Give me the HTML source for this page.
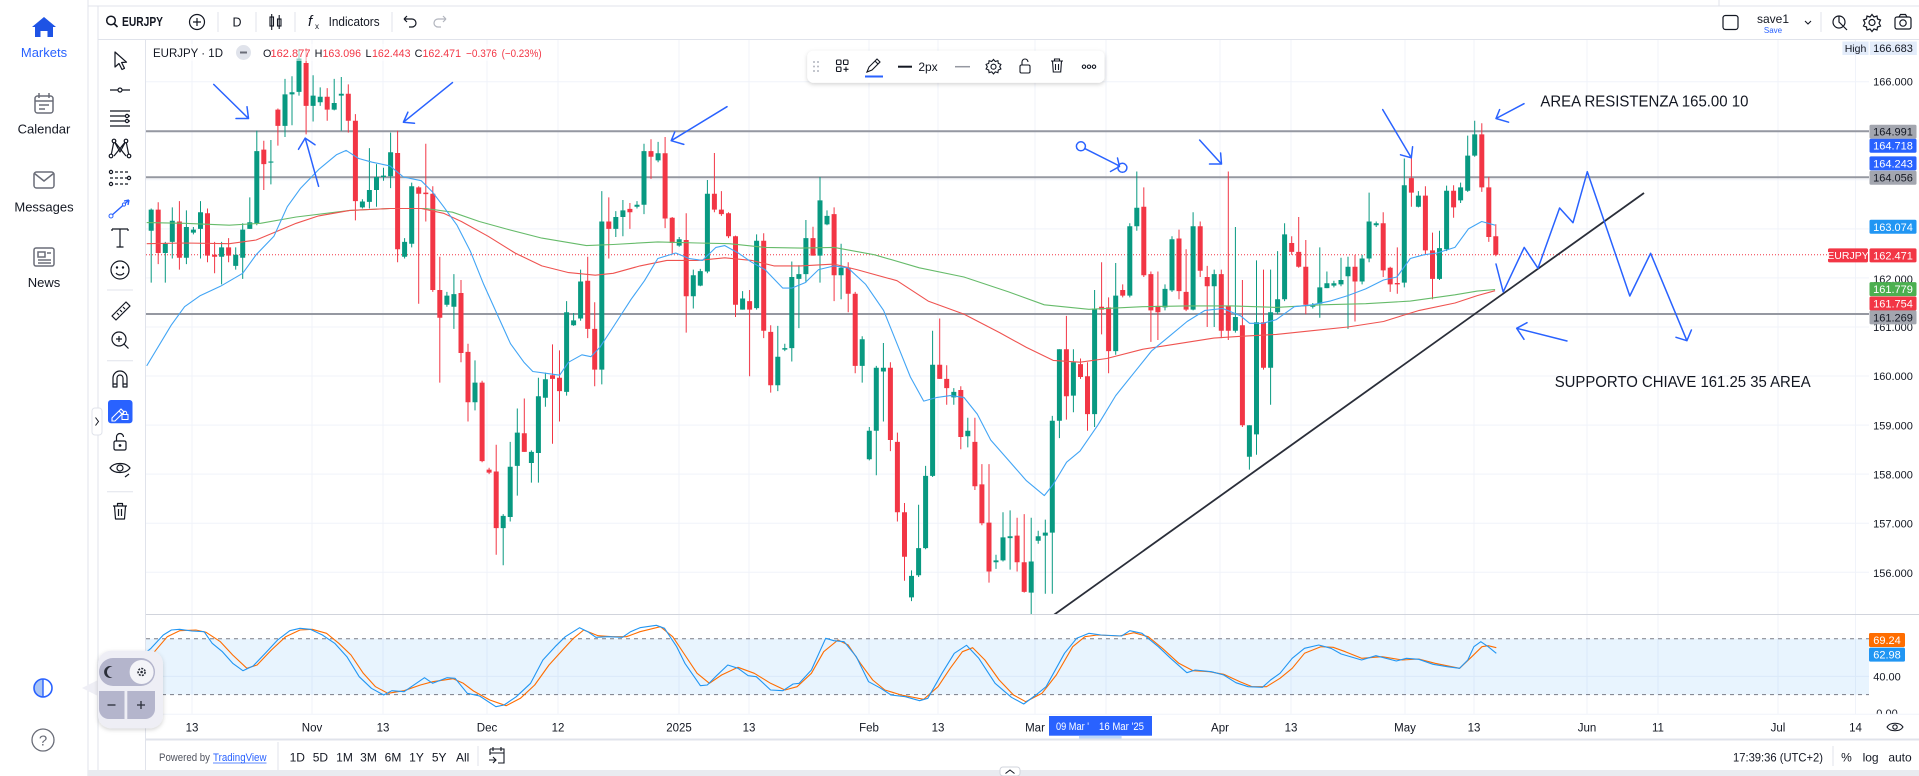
<!DOCTYPE html>
<html><head><meta charset="utf-8"><style>
html,body{margin:0;padding:0;background:#fff;}
svg{display:block}
text{font-family:"Liberation Sans",Arial,sans-serif;}
</style></head><body>
<svg width="1919" height="776" viewBox="0 0 1919 776" xmlns="http://www.w3.org/2000/svg">
<defs>
<clipPath id="pp"><rect x="146" y="40" width="1723" height="574"/></clipPath>
<clipPath id="ip"><rect x="146" y="615" width="1723" height="99"/></clipPath>
<filter id="sh" x="-10%" y="-30%" width="120%" height="170%"><feDropShadow dx="0" dy="1.5" stdDeviation="2" flood-color="#000" flood-opacity="0.18"/></filter>
</defs>
<rect width="1919" height="776" fill="#fff"/>
<!-- frame lines -->
<line x1="88" y1="0" x2="88" y2="776" stroke="#e0e3eb"/>
<line x1="98" y1="6" x2="98" y2="770" stroke="#e0e3eb"/>
<line x1="88" y1="6" x2="1919" y2="6" stroke="#e0e3eb"/>
<line x1="1719" y1="0" x2="1719" y2="6" stroke="#e0e3eb"/>
<line x1="98" y1="39.5" x2="1919" y2="39.5" stroke="#e0e3eb"/>
<line x1="145.5" y1="40" x2="145.5" y2="770" stroke="#e0e3eb"/>
<rect x="88" y="770" width="1831" height="6" fill="#e9ebf0"/>
<rect x="1000" y="767" width="20" height="9" rx="3" fill="#fff" stroke="#d1d4dc"/>
<path d="M1005.5 773.5l4.5-3.5 4.5 3.5" fill="none" stroke="#131722" stroke-width="1"/>

<!-- sidebar -->
<path d="M32 27L44 17L56 27H53V37H47.5V31H40.5V37H35V27Z" fill="#1e53e5"/>
<text x="44" y="57" font-size="13" fill="#2962ff" text-anchor="middle">Markets</text>
<g fill="none" stroke="#6a6d78" stroke-width="1.5">
<rect x="35" y="96" width="18" height="17" rx="2.5"/><line x1="35" y1="101" x2="53" y2="101"/><line x1="39" y1="93" x2="39" y2="98"/><line x1="49" y1="93" x2="49" y2="98"/><line x1="39" y1="105" x2="49" y2="105"/><line x1="39" y1="109" x2="45" y2="109"/>
<rect x="34" y="172" width="20" height="16" rx="2.5"/><path d="M34.5 173.5L44 181L53.5 173.5"/>
<rect x="34" y="248" width="20" height="18" rx="2"/><rect x="38" y="252" width="7" height="5"/><line x1="47" y1="253" x2="51" y2="253"/><line x1="38" y1="260" x2="51" y2="260"/><line x1="38" y1="263" x2="51" y2="263"/>
</g>
<text x="44" y="133.5" font-size="13" fill="#131722" text-anchor="middle">Calendar</text>
<text x="44" y="211.5" font-size="13" fill="#131722" text-anchor="middle">Messages</text>
<text x="44" y="287" font-size="13" fill="#131722" text-anchor="middle">News</text>
<path d="M43 679a9 9 0 0 0 0 18z" fill="#a9c4f5"/>
<circle cx="43" cy="688" r="9" fill="none" stroke="#2962ff" stroke-width="1.6"/>
<line x1="43" y1="679" x2="43" y2="697" stroke="#2962ff" stroke-width="1.4"/>
<circle cx="43" cy="740" r="11" fill="none" stroke="#6a6d78" stroke-width="1.3"/>
<text x="43" y="745.5" font-size="15" fill="#6a6d78" text-anchor="middle">?</text>

<!-- top toolbar -->
<circle cx="111" cy="20.5" r="4.3" fill="none" stroke="#131722" stroke-width="1.5"/><line x1="114" y1="23.5" x2="117.5" y2="27" stroke="#131722" stroke-width="1.6"/>
<text x="122" y="26" font-size="12.5" font-weight="bold" fill="#131722" textLength="41" lengthAdjust="spacingAndGlyphs">EURJPY</text>
<circle cx="197" cy="22" r="7.5" fill="none" stroke="#131722" stroke-width="1.2"/><path d="M193 22h8M197 18v8" stroke="#131722" stroke-width="1.2"/>
<g stroke="#e0e3eb"><line x1="218" y1="12" x2="218" y2="32"/><line x1="256" y1="12" x2="256" y2="32"/><line x1="295" y1="12" x2="295" y2="32"/><line x1="392" y1="12" x2="392" y2="32"/><line x1="1821" y1="12" x2="1821" y2="32"/></g>
<text x="237" y="26.5" font-size="12.5" fill="#131722" text-anchor="middle">D</text>
<g stroke="#131722" fill="none" stroke-width="1.1"><rect x="270" y="17" width="3.5" height="9"/><line x1="271.7" y1="14" x2="271.7" y2="30"/><rect x="277.5" y="19" width="3.5" height="7"/><line x1="279.2" y1="15" x2="279.2" y2="29"/></g>
<text x="308" y="26" font-size="15" font-style="italic" fill="#131722" font-family="Liberation Serif,serif">f</text><text x="315" y="29" font-size="8" fill="#131722">x</text>
<text x="328.6" y="26" font-size="12.5" fill="#131722" textLength="51" lengthAdjust="spacingAndGlyphs">Indicators</text>
<path d="M404 19h8a4 4 0 0 1 0 8h-3M404 19l3-3M404 19l3 3" fill="none" stroke="#131722" stroke-width="1.2"/>
<path d="M446 19h-8a4 4 0 0 0 0 8h3M446 19l-3-3M446 19l-3 3" fill="none" stroke="#b2b5be" stroke-width="1.2"/>
<rect x="1723" y="15.5" width="15" height="14" rx="2.5" fill="none" stroke="#131722" stroke-width="1.2"/>
<text x="1773" y="23" font-size="12" fill="#131722" text-anchor="middle">save1</text>
<text x="1773" y="33" font-size="8" fill="#2962ff" text-anchor="middle">Save</text>
<path d="M1805 21l3 3 3-3" fill="none" stroke="#131722" stroke-width="1.1"/>
<g fill="none" stroke="#131722" stroke-width="1.2">
<circle cx="1839" cy="22" r="6"/><path d="M1839 16v6l4 4M1843 26l4 4"/>
<circle cx="1872" cy="22.5" r="3"/><path d="M1872 14.5l2 2.5 3-1 .5 3 3 1-1.5 3 1.5 3-3 1-.5 3-3-1-2 2.5-2-2.5-3 1-.5-3-3-1 1.5-3-1.5-3 3-1 .5-3 3 1z"/>
<rect x="1895" y="17" width="16" height="12" rx="2"/><circle cx="1903" cy="23" r="3.2"/><path d="M1899 17l1.5-2.5h5l1.5 2.5"/>
</g>

<!-- left drawing toolbar -->
<g fill="none" stroke="#131722" stroke-width="1.2" stroke-linejoin="round">
<path d="M115 52V67l4-3.5 3 6 2.5-1.2-2.9-5.8 4.9-.3z"/>
<line x1="110" y1="90" x2="130" y2="90"/><circle cx="120" cy="90" r="2" fill="#fff"/>
<path d="M110 111h20M110 116h20M110 121h20M110 126h20"/><circle cx="127" cy="116" r="1.6" fill="#fff"/><circle cx="127" cy="121" r="1.6" fill="#fff"/>
<path d="M111 156L114 141L120 152L126 141L129 156M114 141L126 156M126 141L114 156"/><circle cx="114" cy="141" r="1.8" fill="#fff"/><circle cx="126" cy="141" r="1.8" fill="#fff"/><circle cx="111" cy="156" r="1.8" fill="#fff"/><circle cx="129" cy="156" r="1.8" fill="#fff"/>
<path d="M110 172h20M110 178h20M110 184h20" stroke-dasharray="3 2"/><circle cx="111" cy="172" r="1.6" fill="#fff"/><circle cx="129" cy="178" r="1.6" fill="#fff"/><circle cx="111" cy="184" r="1.6" fill="#fff"/>
<path d="M112 229h16M120 229v18M116.5 247h7M112 229v2M128 229v2"/>
<circle cx="120" cy="270" r="9"/><path d="M116 273a5 5 0 0 0 8 0"/><circle cx="117" cy="267.5" r=".6" fill="#131722"/><circle cx="123" cy="267.5" r=".6" fill="#131722"/>
<path d="M112 316l14-14 4 4-14 14z M117 313l2 2M120 310l2 2M123 307l2 2"/>
<circle cx="119" cy="339" r="7"/><path d="M124 344l4.5 4.5M116 339h6M119 336v6"/>
<path d="M113 387v-9a7 7 0 0 1 14 0v9h-4v-9a3 3 0 0 0-6 0v9z M113 384h4M123 384h4"/>
<rect x="114" y="441" width="12" height="9" rx="1.5"/><path d="M116.5 441v-4a3.5 3.5 0 0 1 7 0"/><circle cx="120" cy="445.5" r=".8" fill="#131722"/>
<path d="M110 468c4-6 16-6 20 0c-4 6-16 6-20 0z"/><circle cx="120" cy="468" r="3"/><path d="M125 477l4-3"/>
<path d="M113 506h14M117.5 506v-2.5h5v2.5M114.5 506l1 13h9l1-13M118.5 509v7M121.5 509v7"/>
</g>
<g stroke="#e0e3eb"><line x1="107" y1="290" x2="133" y2="290"/><line x1="107" y1="360.7" x2="133" y2="360.7"/><line x1="107" y1="491.7" x2="133" y2="491.7"/></g>
<path d="M111 216L129 200M129 200l-5 1M129 200l-1 5" fill="none" stroke="#2962ff" stroke-width="1.4"/><circle cx="111" cy="216" r="2" fill="#fff" stroke="#2962ff"/><circle cx="124" cy="204.5" r="1.6" fill="#fff" stroke="#2962ff"/>
<rect x="108" y="400" width="24.5" height="23.3" rx="3" fill="#2962ff"/>
<path d="M112 418l9-9 3 3-9 9h-3z M119 411l3 3" fill="none" stroke="#fff" stroke-width="1.1"/><rect x="122" y="414.5" width="6" height="5" fill="none" stroke="#fff"/><path d="M123.3 414.5v-1.5a1.7 1.7 0 0 1 3.4 0v1.5" fill="none" stroke="#fff"/>
<rect x="92" y="408" width="10" height="27" rx="3" fill="#fff" stroke="#e0e3eb"/><path d="M95.5 417.5l3 4-3 4" fill="none" stroke="#131722"/>

<!-- grid -->
<g stroke="#f0f3fa" stroke-width="1">
<path d="M146 81.7H1869M146 130.8H1869M146 179.8H1869M146 228.9H1869M146 277.9H1869M146 327H1869M146 376H1869M146 425.1H1869M146 474.1H1869M146 523.2H1869M146 572.2H1869M146 676.4H1869"/>
<path d="M192 40V714M312 40V714M383 40V714M487 40V714M558 40V714M679 40V714M749 40V714M869 40V714M938 40V714M1035 40V714M1106 40V714M1220 40V714M1291 40V714M1405 40V714M1474 40V714M1587 40V714M1658 40V714M1778 40V714M1855.5 40V714"/>
</g>

<!-- price pane -->
<g clip-path="url(#pp)">
<g stroke="#9598a1" stroke-width="2"><line x1="146" y1="131.2" x2="1869" y2="131.2"/><line x1="146" y1="177.3" x2="1869" y2="177.3"/><line x1="146" y1="314" x2="1869" y2="314"/></g>
<line x1="146" y1="254.8" x2="1828" y2="254.8" stroke="#f23645" stroke-width="1" stroke-dasharray="1 2"/>
<g fill="none" stroke-width="1">
<path stroke="#089981" d="M151.2 208.5V282.6M165.3 241.9V282.6M172.3 207.4V258.5M186.4 210.4V264.1M193.4 227V234.4M200.5 201.1V258.5M221.6 241.9V284.4M235.7 247.4V269.6M242.7 223.3V278.9M249.8 197.4V228.9M256.8 130.7V225.2M270.9 140V184.4M285 78.9V137M292 76.3V125.2M299 49V95.6M313.1 75.2V121.5M320.2 87.4V105.9M334.2 78.9V110.4M341.3 77V130.7M362.4 199.3V208.5M369.4 148.1V208.5M376.5 164.1V206.7M383.5 167.8V180.7M390.6 132.6V188.1M404.6 238.1V258.5M411.7 182.6V247.4M446.9 291.9V306.7M453.9 274.1V328.9M475 360.4V410.4M503.2 514.1V565.2M510.2 441.9V521.5M517.3 408.5V495.6M531.4 450.4V482.6M538.4 377.8V482.6M545.4 372.6V406.7M566.6 301.1V395.6M573.6 313V325.9M580.6 269.6V320.7M601.8 191.1V384.4M615.8 211.1V237M622.9 200V236.3M637 201.1V208.5M644 143.7V214.1M658.1 141.9V162.2M679.2 237V246.7M693.3 269.6V308.5M700.3 268.9V286.3M707.4 180V273.3M742.6 291.1V309.6M756.6 234.4V309.6M777.8 325.9V391.1M784.8 343.7V351.1M791.8 261.5V361.5M798.9 265.2V328.1M805.9 220V282.6M820 177V282.6M827 210.4V225.2M841.1 243.7V299.3M862.2 336.3V382.6M869.3 427V460.4M876.3 365.9V475.2M883.4 343V421.5M911.5 570.4V601.1M918.6 504.8V577M925.6 465.9V549.3M932.6 330.7V477M953.8 388.1V404.8M967.8 417.8V447.4M996 554.8V568.9M1003 512.2V561.5M1010.1 510.4V569.6M1031.2 517.8V614M1038.2 530.7V543.7M1045.3 519.6V593.7M1052.3 415.9V593.7M1059.4 349.3V438.1M1073.4 349.3V412.2M1094.6 290V427M1115.7 263V354.8M1129.8 223.3V297.4M1136.8 171.5V230.7M1165 284.4V310.4M1172 236.3V291.9M1193.1 212.2V310.4M1214.2 269.6V327M1235.4 227V332.6M1249.4 425.2V469.6M1256.5 260.4V454.8M1270.6 269.6V404.8M1277.6 251.1V314.1M1284.6 223.3V301.1M1312.8 303V308.5M1319.8 247.4V317.8M1326.9 271.5V288.1M1333.9 280.7V287.4M1341 257.8V286.3M1348 256.7V328.9M1362.1 254.8V284.4M1369.1 192.6V262.2M1376.2 221.5V227M1404.3 158.5V287.4M1418.4 191.1V207.4M1439.5 230.7V280M1446.6 185.6V251.1M1460.6 182.6V203M1467.7 135.6V191.9M1474.7 120.7V156.7"/>
<path stroke="#f23645" d="M158.2 202.2V264.1M179.4 201.1V269.6M207.5 208.5V262.2M214.6 241.9V273.3M228.6 238.1V262.2M263.8 140.7V190M277.9 108.5V145.6M306.1 48V134.4M327.2 88.1V120.7M348.3 84.4V132.6M355.4 114.1V220.4M397.6 130.7V262.2M418.7 186.3V303.7M425.8 143.7V221.5M432.8 186.3V291.9M439.8 256.7V382.6M461 280V362.2M468 343.7V421.5M482.1 380.7V462.2M489.1 467.8V474.1M496.2 444.8V554.8M524.3 398.5V451.9M552.5 344.4V443.7M559.5 350.4V421.5M587.7 256.7V338.1M594.7 302.2V386.3M608.8 197.4V258.5M629.9 203V228.9M651 139.3V178.9M665.1 137V228.1M672.2 217V254.1M686.2 213.3V332.6M714.4 153V212.2M721.4 191.1V215.9M728.5 212.2V238.1M735.5 235.6V317M749.6 290V376.3M763.7 233.3V338.1M770.7 325.2V392.6M813 226.7V255.6M834.1 207.4V301.1M848.2 262.2V312.2M855.2 291.9V373.3M890.4 362.2V451.1M897.4 432.6V521.5M904.5 503V580.7M939.7 318.5V378.9M946.7 365.2V404.8M960.8 386.3V449.3M974.9 417.8V490M981.9 464.1V525.2M989 464.1V582.6M1017.1 517.8V571.5M1024.2 514.1V592.6M1066.4 315.9V419.6M1080.5 358.5V378.9M1087.5 362.2V430.7M1101.6 262.2V334.4M1108.6 297.4V373.3M1122.7 284.4V297.4M1143.8 187.4V277M1150.9 271.5V341.9M1157.9 271.5V340M1179 229.6V299.3M1186.1 249.3V311.1M1200.2 221.5V277M1207.2 265.9V327M1221.3 269.6V338.1M1228.3 171.5V340M1242.4 280V427M1263.5 269.6V369.6M1291.7 236.3V254.8M1298.7 217V267.8M1305.8 240V314.1M1355 254.8V321.5M1383.2 212.2V277M1390.2 266.7V291.9M1397.3 247.4V293.7M1411.4 156.7V206.7M1425.4 186.3V254.8M1432.5 232.6V299.3M1453.6 185.2V217.8M1481.8 123.3V191.9M1488.8 177V241.9M1495.8 224.2V256.2"/>
</g>
<path fill="#089981" d="M148.7 209.6h5V230.7h-5zM162.8 243.7h5V253h-5zM169.8 220.7h5V241.9h-5zM183.9 227h5V257.8h-5zM190.9 229.6h5V232.6h-5zM198 212.2h5V228.9h-5zM219.1 247.4h5V256.7h-5zM233.2 254.8h5V265.9h-5zM240.2 229.6h5V257.8h-5zM247.3 222.2h5V228.9h-5zM254.3 151.1h5V223.3h-5zM268.4 161.5h5V162.6h-5zM282.5 94.4h5V125.9h-5zM289.5 92.2h5V94.4h-5zM296.5 58.5h5V91.9h-5zM310.6 95.6h5V105.9h-5zM317.7 96.7h5V102.2h-5zM331.7 103h5V109.6h-5zM338.8 93.7h5V95.6h-5zM359.9 201.5h5V207.4h-5zM366.9 190h5V201.9h-5zM374 177h5V190h-5zM381 175.6h5V177h-5zM388.1 152.2h5V176.3h-5zM402.1 241.9h5V256.7h-5zM409.2 186.3h5V243.7h-5zM444.4 295.6h5V304.8h-5zM451.4 294.1h5V306.7h-5zM472.5 382.6h5V402.2h-5zM500.7 515.9h5V528.1h-5zM507.7 466.7h5V517h-5zM514.8 432.6h5V465.9h-5zM528.9 451.9h5V463h-5zM535.9 396.3h5V453h-5zM542.9 379.3h5V397.8h-5zM564.1 312.2h5V391.9h-5zM571.1 320.4h5V325.2h-5zM578.1 281.5h5V318.5h-5zM599.3 221.5h5V369.6h-5zM613.3 217h5V228.9h-5zM620.4 210.4h5V217h-5zM634.5 204.8h5V206.7h-5zM641.5 151.1h5V204.8h-5zM655.6 153.3h5V160.4h-5zM676.7 239.3h5V245.6h-5zM690.8 275.2h5V296.3h-5zM697.8 271.1h5V285.6h-5zM704.9 193.7h5V271.5h-5zM740.1 298.5h5V309.6h-5zM754.1 240.7h5V308.1h-5zM775.3 356.7h5V385.2h-5zM782.3 348.1h5V349.6h-5zM789.3 277h5V348.1h-5zM796.4 274.1h5V278.9h-5zM803.4 238.1h5V274.1h-5zM817.5 200.4h5V255.6h-5zM824.5 215.9h5V224.4h-5zM838.6 267.8h5V275.2h-5zM859.7 339.3h5V365.9h-5zM866.8 430.7h5V459.3h-5zM873.8 367.8h5V430.7h-5zM880.9 367.8h5V371.5h-5zM909 575.9h5V597.4h-5zM916.1 548.1h5V575.2h-5zM923.1 475.9h5V548.1h-5zM930.1 364.8h5V475.9h-5zM951.3 391.9h5V397.4h-5zM965.3 430.7h5V436.3h-5zM993.5 560.4h5V562.2h-5zM1000.5 537.4h5V560.4h-5zM1007.6 536.3h5V538.1h-5zM1028.7 561.5h5V592.6h-5zM1035.7 536.3h5V540.7h-5zM1042.8 532.6h5V535.6h-5zM1049.8 420.7h5V532.6h-5zM1056.9 349.3h5V420.7h-5zM1070.9 362.2h5V395.6h-5zM1092.1 308.5h5V414.1h-5zM1113.2 295.6h5V351.1h-5zM1127.3 226.3h5V295.6h-5zM1134.3 207.8h5V226.3h-5zM1162.5 288.9h5V307.4h-5zM1169.5 239.3h5V290.4h-5zM1190.6 226.3h5V309.6h-5zM1211.7 274.1h5V286.3h-5zM1232.9 317h5V330.7h-5zM1246.9 425.2h5V456.7h-5zM1254 322.2h5V434.4h-5zM1268.1 312.2h5V367.8h-5zM1275.1 299.3h5V312.2h-5zM1282.1 234.4h5V299.3h-5zM1310.3 304.8h5V306.7h-5zM1317.3 287.4h5V303.7h-5zM1324.4 283.3h5V288.1h-5zM1331.4 283.3h5V285.6h-5zM1338.5 280h5V284.4h-5zM1345.5 266.7h5V276.3h-5zM1359.6 258.5h5V281.5h-5zM1366.6 221.5h5V258.5h-5zM1373.7 223.3h5V225.2h-5zM1401.8 185.2h5V282.6h-5zM1415.9 195.6h5V206.7h-5zM1437 248.1h5V278.9h-5zM1444.1 190.7h5V249.3h-5zM1458.1 187.4h5V200.4h-5zM1465.2 155.6h5V190.7h-5zM1472.2 134.4h5V155.6h-5z"/>
<path fill="#f23645" d="M155.7 209.6h5V253h-5zM176.9 221.5h5V257.8h-5zM205 213.3h5V255.6h-5zM212.1 254.8h5V256.7h-5zM226.1 247.4h5V255.6h-5zM261.3 149.6h5V164.1h-5zM275.4 109.6h5V125.9h-5zM303.6 63h5V105.9h-5zM324.7 96.7h5V109.6h-5zM345.8 93.7h5V120.7h-5zM352.9 120.7h5V201.1h-5zM395.1 153h5V249.3h-5zM416.2 187.4h5V193.7h-5zM423.3 192.6h5V194.1h-5zM430.3 193.7h5V290h-5zM437.3 290h5V317.8h-5zM458.5 293h5V353h-5zM465.5 351.9h5V402.2h-5zM479.6 382.6h5V461.1h-5zM486.6 469.6h5V472.6h-5zM493.7 471.5h5V528.1h-5zM521.8 433.3h5V451.9h-5zM550 375.2h5V378.9h-5zM557 377.8h5V391.1h-5zM585.2 280.7h5V328.9h-5zM592.2 328.9h5V369.6h-5zM606.3 221.5h5V228.9h-5zM627.4 208.9h5V212.2h-5zM648.5 151.1h5V156.7h-5zM662.6 153.3h5V218.5h-5zM669.7 217.8h5V243h-5zM683.7 240h5V296.3h-5zM711.9 193.7h5V209.6h-5zM718.9 209.6h5V214.1h-5zM726 213.3h5V236.3h-5zM733 236.3h5V304.8h-5zM747.1 301.1h5V309.6h-5zM761.2 240.7h5V330.7h-5zM768.2 331.9h5V385.2h-5zM810.5 238.1h5V255.6h-5zM831.6 214.1h5V275.2h-5zM845.7 267.8h5V293.7h-5zM852.7 293.7h5V365.9h-5zM887.9 367.8h5V440h-5zM894.9 441.9h5V512.2h-5zM902 512.2h5V556.7h-5zM937.2 364.8h5V378.9h-5zM944.2 378.9h5V388.1h-5zM958.3 390h5V437h-5zM972.4 441.9h5V486.3h-5zM979.4 484.4h5V523.3h-5zM986.5 522.6h5V571.5h-5zM1014.6 535.6h5V562.2h-5zM1021.7 562.2h5V591.9h-5zM1063.9 349.3h5V396.3h-5zM1078 364.1h5V377h-5zM1085 376.3h5V414.1h-5zM1099.1 306.7h5V309.6h-5zM1106.1 307.4h5V351.1h-5zM1120.2 290h5V295.6h-5zM1141.3 206.7h5V275.2h-5zM1148.4 274.1h5V310.4h-5zM1155.4 305.9h5V312.2h-5zM1176.5 238.5h5V291.1h-5zM1183.6 291.9h5V309.6h-5zM1197.7 226.3h5V270.7h-5zM1204.7 277h5V286.3h-5zM1218.8 274.1h5V330.7h-5zM1225.8 305.9h5V330.7h-5zM1239.9 325.2h5V425.2h-5zM1261 322.2h5V367.8h-5zM1289.2 243h5V251.9h-5zM1296.2 251.9h5V266.7h-5zM1303.3 266.7h5V304.8h-5zM1352.5 266.7h5V281.5h-5zM1380.7 223.3h5V270.4h-5zM1387.7 267.8h5V284.4h-5zM1394.8 283h5V284.4h-5zM1408.9 178.1h5V192.6h-5zM1422.9 195.6h5V250.4h-5zM1430 250.4h5V278.9h-5zM1451.1 190.7h5V207.4h-5zM1479.3 134.4h5V187.4h-5zM1486.3 187.4h5V237h-5zM1493.3 236.3h5V254.8h-5z"/>
<!-- moving averages -->
<g fill="none" stroke-width="1.1" stroke-linejoin="round">
<polyline stroke="#66bb6a" points="146.7,222.6 184.6,223.3 229.3,225.2 260.5,223.3 296.2,217 349.8,210.4 390,208.5 425.7,208.5 452.5,212.2 479.3,221.5 506,228.9 541.8,238.1 586.4,245.6 613.2,244.5 657.8,241.9 698,243 729.3,243.7 765,247.4 800.7,248.1 834.2,247.4 874.6,254.8 919.3,267.8 963.9,277 1008.6,291.9 1044.3,304.8 1088.9,309.3 1142.5,306.7 1187.1,305.9 1231.8,305.9 1276.4,307.4 1321,304.8 1365.7,303.7 1410.3,301.1 1455,294.8 1477.3,291.1 1495.1,289.5"/>
<polyline stroke="#ef5350" points="146.7,243.7 184.6,243 229.3,243.7 256.1,240 273.9,232.6 296.2,223.3 318.6,215.9 349.8,210.4 390,208.5 421.2,208.5 443.6,213.3 461.4,221.5 488.2,236.3 515,253 541.8,265.9 568.6,272.6 595.3,275.2 613.2,273.3 640,265.9 666.8,260.4 698,260.4 724.8,257.8 751.6,260.4 773.9,265.9 800.7,265.9 834.2,264.1 856.8,269.6 897,280.7 928.2,301.1 963.9,314.1 999.6,332.6 1026.4,347.4 1053.2,360.4 1080,362.2 1106.8,358.5 1142.5,349.3 1178.2,343.7 1213.9,338.1 1240.7,336.3 1276.4,334.4 1312.1,330.7 1347.8,327 1383.5,321.5 1401.4,315.9 1419.3,310.4 1455,303 1477.3,295.6 1495.1,290.7"/>
<polyline stroke="#42a5f5" points="146.7,365.9 171.2,325.2 184.6,306.7 200.3,295.6 220.4,286.3 242.7,273.3 256.1,254.8 273.9,236.3 287.3,206.7 300.7,188.1 318.6,169.6 336.4,154.8 346.2,150.4 358.7,158.5 372.1,162.2 390,165.9 403.4,177 421.2,180.7 432.4,191.9 443.6,206.7 457,225.2 470.3,251.1 483.7,284.4 497.1,314.1 510.5,343.7 523.9,362.2 532.8,371.5 546.2,373.3 559.6,375.2 568.6,362.2 581.9,354.8 590.9,356.7 599.8,347.4 613.2,327 631.1,299.3 644.5,280.7 657.8,258.5 675.7,253 689.1,258.5 702.5,260.4 715.9,247.4 724.8,245.6 738.2,253 751.6,262.2 765,269.6 782.8,288.1 791.8,288.1 805.2,282.6 818.6,269.6 834.2,265.9 847.9,267.8 865.7,284.4 883.6,310.4 897,343.7 910.4,377 923.7,401.1 937.1,397.4 950.5,395.6 963.9,397.4 977.3,414.1 990.7,440 1008.6,460.4 1026.4,480.7 1044.3,495.6 1053.2,484.4 1066.6,462.2 1080,451.1 1097.8,425.2 1115.7,395.6 1133.6,373.3 1151.4,351.1 1169.3,336.3 1187.1,321.5 1205,310.4 1222.8,308.5 1240.7,315.9 1249.6,323.3 1263,323.3 1276.4,319.6 1294.3,306.7 1312.1,304.8 1330,301.1 1347.8,295.6 1365.7,288.9 1383.5,280 1396.9,277 1410.3,258.5 1423.7,254.8 1437.1,253 1454.9,247.4 1468.4,228.9 1481.7,221.5 1495.1,225.2"/>
</g>
<!-- drawings -->
<line x1="1053" y1="615.5" x2="1644" y2="193" stroke="#2a2e39" stroke-width="1.8"/>
<g fill="none" stroke="#2962ff" stroke-width="1.5" stroke-linecap="round" stroke-linejoin="round">
<path d="M213.7 84.4L248.5 118.5M236 118.5L248.5 118.5L247 106.7"/>
<path d="M318.6 186.3L305.2 138.1M298.5 149.3L305.2 138.1L315 144.8"/>
<path d="M452.5 82.6L403.4 122.2M414.5 123.3L403.4 122.2L407.9 112.2"/>
<path d="M727 106.7L671.2 140.7M683.8 144.4L671.2 140.7L674.8 131.9"/>
<circle cx="1080.9" cy="146.3" r="4.5"/><path d="M1084.8 148.6L1118.5 165.5M1110.5 171.5L1119.5 166.5L1117.5 158"/><circle cx="1122.4" cy="167.8" r="4.5"/>
<path d="M1199.6 140L1221.5 164M1209.5 164L1221.5 164L1220.6 153"/>
<path d="M1382.7 109.6L1411.3 157.8M1400.5 154.8L1411.3 157.8L1412.6 146.7"/>
<path d="M1524 103.7L1496 118.5M1508.6 122.2L1496 118.5L1499.6 109.6"/>
<path d="M1496 264L1503.2 291.9L1524.2 247.4L1538 268.3L1559.6 208L1573 222.7L1587.3 171.7L1629.8 296L1650.6 253.3L1686.9 340.7M1676 337.3L1686.9 340.7L1691.4 330"/>
<path d="M1567 341L1516.7 328.3M1527 322.7L1516.7 328.3L1524 339.3"/>
</g>
</g>
<text x="1540.4" y="106.5" font-size="15.5" fill="#131722" textLength="208" lengthAdjust="spacingAndGlyphs">AREA RESISTENZA 165.00 10</text>
<text x="1554.7" y="387" font-size="16" fill="#131722" textLength="256" lengthAdjust="spacingAndGlyphs">SUPPORTO CHIAVE 161.25 35 AREA</text>

<!-- legend -->
<rect x="150" y="44" width="395" height="17" fill="#fff" fill-opacity="0.55"/>
<text x="153" y="57" font-size="12" fill="#131722" textLength="70" lengthAdjust="spacingAndGlyphs">EURJPY · 1D</text>
<circle cx="243.5" cy="52.5" r="7.5" fill="#e0e3eb"/><line x1="240" y1="52.5" x2="247" y2="52.5" stroke="#6a6d78" stroke-width="2"/>
<g font-size="10.8">
<text x="263" y="57" fill="#131722">O</text><text x="270.5" y="57" fill="#f23645" textLength="40" lengthAdjust="spacingAndGlyphs">162.877</text>
<text x="314.6" y="57" fill="#131722">H</text><text x="322.5" y="57" fill="#f23645" textLength="38.5" lengthAdjust="spacingAndGlyphs">163.096</text>
<text x="365.5" y="57" fill="#131722">L</text><text x="372" y="57" fill="#f23645" textLength="38.5" lengthAdjust="spacingAndGlyphs">162.443</text>
<text x="414.6" y="57" fill="#131722">C</text><text x="422.5" y="57" fill="#f23645" textLength="38.5" lengthAdjust="spacingAndGlyphs">162.471</text>
<text x="466" y="57" fill="#f23645" textLength="31" lengthAdjust="spacingAndGlyphs">−0.376</text>
<text x="501.6" y="57" fill="#f23645" textLength="40" lengthAdjust="spacingAndGlyphs">(−0.23%)</text>
</g>

<!-- floating drawing toolbar -->
<rect x="807.3" y="50.7" width="297.2" height="32" rx="6" fill="#fff" filter="url(#sh)"/>
<g fill="#b2b5be"><circle cx="814" cy="62" r="1"/><circle cx="818" cy="62" r="1"/><circle cx="814" cy="66.5" r="1"/><circle cx="818" cy="66.5" r="1"/><circle cx="814" cy="71" r="1"/><circle cx="818" cy="71" r="1"/></g>
<g fill="none" stroke="#131722" stroke-width="1.1">
<rect x="836.5" y="60" width="4.5" height="4.5" rx="1"/><rect x="843.5" y="60" width="4.5" height="4.5" rx="1"/><rect x="836.5" y="67" width="4.5" height="4.5" rx="1"/><path d="M843.5 69.3h5M846 66.8v5"/>
<path d="M867 72l2-5 8-8 3 3-8 8z M875 61l3 3"/>
<circle cx="993.5" cy="66.7" r="2.5"/><path d="M993.5 59.5l1.8 2 2.6-.8.4 2.7 2.6 1-1.2 2.3 1.2 2.3-2.6 1-.4 2.7-2.6-.8-1.8 2-1.8-2-2.6.8-.4-2.7-2.6-1 1.2-2.3-1.2-2.3 2.6-1 .4-2.7 2.6.8z"/>
<rect x="1020" y="65" width="10" height="8" rx="1.5"/><path d="M1022 65v-3a3 3 0 0 1 6 0"/>
<path d="M1051 61h12M1054.5 61v-2h5v2M1052.5 61l.8 11h7.4l.8-11M1055.5 64v6M1058.5 64v6"/>
<circle cx="1084" cy="66.7" r="1.7"/><circle cx="1089" cy="66.7" r="1.7"/><circle cx="1094" cy="66.7" r="1.7"/>
</g>
<rect x="865" y="75.5" width="18" height="2" fill="#2962ff"/>
<line x1="898" y1="66.7" x2="912" y2="66.7" stroke="#131722" stroke-width="2"/>
<text x="928" y="71" font-size="12" fill="#131722" text-anchor="middle">2px</text>
<line x1="955" y1="66.7" x2="970" y2="66.7" stroke="#9598a1" stroke-width="1.5"/>

<!-- indicator pane -->
<line x1="146" y1="614.5" x2="1919" y2="614.5" stroke="#d1d4dc"/>
<g clip-path="url(#ip)">
<rect x="146" y="638.7" width="1723" height="55.9" fill="#2196f3" fill-opacity="0.1"/>
<g stroke="#787b86" stroke-dasharray="4 4"><line x1="146" y1="638.7" x2="1869" y2="638.7"/><line x1="146" y1="694.6" x2="1869" y2="694.6"/></g>
<g fill="none" stroke-width="1.1" stroke-linejoin="round">
<polyline stroke="#ff6d00" points="153.1,653.3 167.3,636.7 179.6,630.7 195.9,630 206.1,632.3 220.4,641.7 232.7,655 246.9,668.3 257.1,665 271.4,650 285.7,636.7 300,630 312.2,629.3 326.5,633.3 338.8,643.3 351,655 363.3,673.3 375.5,686.7 387.8,693.3 404.1,690.7 420.4,685 432.7,681.7 453.1,678.7 463.3,683.3 473.5,691 489.8,700 506.1,705.7 520.4,698.3 534.7,685 549,665 563.3,649.3 573.5,638.3 583.7,630 598,635.7 612.2,636.7 626.5,636.7 640,631.7 660.4,626.7 672.7,636.7 684.9,655 697.1,673.3 709.4,683.3 721.6,675 738,667.3 754.3,673.3 770.6,683.3 784.9,690 797.1,686.7 811.4,673.3 823.7,651.7 838,640 848.2,645 860.4,663.3 872.7,680 884.9,690 901.2,695 923.7,699.3 938,686.7 950.2,668.3 962.4,651.7 972.7,647.7 984.9,660 999.2,680 1013.5,695 1025.7,701.7 1042,693.3 1056.3,675 1072.7,646.7 1084.9,636.7 1097.1,635 1119.6,636 1133.9,632.7 1148.2,636.7 1162.4,648.3 1178.8,663.3 1193.1,670.7 1209.4,671.7 1223.7,674.3 1240,681.7 1252.2,686.7 1266.5,686.7 1280,678.3 1292.2,668.3 1304.5,653.3 1320.8,646.7 1333.1,647.3 1345.3,651.7 1361.6,658.3 1382,656.7 1402.4,660 1418.8,659 1435.1,663.3 1459.6,668.3 1471.8,656.7 1482,646.7 1488.2,645.7 1496.3,647.7"/>
<polyline stroke="#2196f3" points="146.9,651.7 151,648.3 163.3,635 171.4,630 179.6,629.3 191.8,631 204.1,631.7 212.2,643.3 222.4,651.7 232.7,663.3 242.9,670.7 253.1,666 265.3,653.3 277.6,640 289.8,630.7 300,628.3 310.2,629.3 322.4,635 334.7,643.3 346.9,656.7 359.2,676.7 371.4,688.3 383.7,695 391.8,690.7 404.1,691.7 424.5,677.7 432.7,683.3 446.9,677.7 455.1,678.3 467.3,693.3 479.6,696 495.9,706.7 504.1,705 516.3,696.7 530.6,683.3 542.9,660 555.1,646.7 565.3,636.7 579.6,627.7 587.8,631.7 595.9,637.3 608.2,636.7 622.4,637.3 630.6,631.7 640,627.7 656.3,625.3 664.5,628.3 676.7,646.7 684.9,663.3 700.4,685.7 707.3,685 715.5,676.7 727.8,665 738,668.3 748.2,675.7 756.3,676.7 770.6,690 782.9,690.7 793.1,684 799.2,683.3 811.4,670 825.7,638.3 833.9,640.7 844.1,641.7 856.3,656.7 868.6,681.7 880.8,688.3 891,695 905.3,696.7 919.6,700.7 927.8,698.3 942,673.3 954.3,653.3 966.5,645.3 978.8,658.3 995.1,683.3 1011.4,697.3 1023.7,704 1035.9,695 1046.1,686.7 1064.5,653.3 1076.7,638.3 1089,633.3 1101.2,635 1121.6,636 1129.8,630.7 1142,633.3 1158.4,646.7 1170.6,658.3 1186.9,672.7 1195.1,670 1211.4,671.7 1223.7,675 1235.9,682.7 1248.2,686.7 1262.4,687.3 1270.6,680 1280,673.3 1292.2,658.3 1304.5,648.3 1318.8,645 1331,648.3 1341.2,654 1361.6,660 1375.9,655.7 1396.3,661 1406.5,658.3 1418.8,659.3 1433.1,664.3 1447.3,666.7 1459.6,668.3 1467.8,660 1473.9,646.7 1480.8,641.7 1488.2,646.7 1496.3,653.3"/>
</g>
</g>

<!-- price axis -->
<g font-size="11" fill="#131722" text-anchor="middle">
<text x="1893" y="85.7">166.000</text>
<text x="1893" y="283">162.000</text>
<text x="1893" y="330.8">161.000</text>
<text x="1893" y="380.2">160.000</text>
<text x="1893" y="429.3">159.000</text>
<text x="1893" y="478.3">158.000</text>
<text x="1893" y="527.4">157.000</text>
<text x="1893" y="576.8">156.000</text>
<text x="1887" y="680.4">40.00</text>
<text x="1887" y="717">0.00</text>
</g>
<rect x="1842.4" y="41.5" width="26.2" height="13.5" fill="#e3ecfa"/>
<text x="1855.5" y="52" font-size="10.5" fill="#131722" text-anchor="middle">High</text>
<rect x="1869.8" y="41.5" width="47" height="13.5" fill="#e3ecfa"/>
<text x="1893" y="52" font-size="11" fill="#131722" text-anchor="middle">166.683</text>
<g font-size="11" text-anchor="middle">
<rect x="1869.5" y="124.7" width="47" height="14" rx="1.5" fill="#a3a6af"/><text x="1893" y="135.7" fill="#131722">164.991</text>
<rect x="1869.5" y="138.7" width="47" height="14" rx="1.5" fill="#2962ff"/><text x="1893" y="149.5" fill="#fff">164.718</text>
<rect x="1869.5" y="156.4" width="47" height="14" rx="1.5" fill="#2962ff"/><text x="1893" y="167.4" fill="#fff">164.243</text>
<rect x="1869.5" y="170.7" width="47" height="14" rx="1.5" fill="#a3a6af"/><text x="1893" y="181.7" fill="#131722">164.056</text>
<rect x="1869.5" y="219.8" width="47" height="14" rx="1.5" fill="#2196f3"/><text x="1893" y="230.8" fill="#fff">163.074</text>
<rect x="1828" y="248.4" width="40" height="14" rx="1.5" fill="#f23645"/><text x="1848" y="259.2" font-size="10.5" fill="#fff">EURJPY</text>
<rect x="1869.5" y="248.4" width="47" height="14" rx="1.5" fill="#f23645"/><text x="1893" y="259.4" fill="#fff">162.471</text>
<rect x="1869.5" y="282.1" width="47" height="14" rx="1.5" fill="#4caf50"/><text x="1893" y="293.1" fill="#fff">161.779</text>
<rect x="1869.5" y="296.5" width="47" height="14" rx="1.5" fill="#f23645"/><text x="1893" y="307.5" fill="#fff">161.754</text>
<rect x="1869.5" y="310.4" width="47" height="14" rx="1.5" fill="#a3a6af"/><text x="1893" y="321.4" fill="#131722">161.269</text>
<rect x="1869" y="633" width="36" height="14" rx="1.5" fill="#ff6d00"/><text x="1887" y="644" fill="#fff">69.24</text>
<rect x="1869" y="647.6" width="36" height="14" rx="1.5" fill="#2196f3"/><text x="1887" y="658.6" fill="#fff">62.98</text>
</g>

<!-- time axis -->
<rect x="146" y="714.5" width="1773" height="24.5" fill="#fff"/>
<line x1="146" y1="714.3" x2="1919" y2="714.3" stroke="#f0f3fa"/>
<g font-size="11.5" fill="#131722" text-anchor="middle">
<text x="192" y="731.5">13</text><text x="312" y="731.5">Nov</text><text x="383" y="731.5">13</text><text x="487" y="731.5">Dec</text><text x="558" y="731.5">12</text><text x="679" y="731.5">2025</text><text x="749" y="731.5">13</text><text x="869" y="731.5">Feb</text><text x="938" y="731.5">13</text><text x="1035" y="731.5">Mar</text><text x="1220" y="731.5">Apr</text><text x="1291" y="731.5">13</text><text x="1405" y="731.5">May</text><text x="1474" y="731.5">13</text><text x="1587" y="731.5">Jun</text><text x="1658" y="731.5">11</text><text x="1778" y="731.5">Jul</text><text x="1855.5" y="731.5">14</text>
</g>
<rect x="1049" y="716" width="103" height="19.7" fill="#2962ff"/>
<rect x="1079" y="735.7" width="42.6" height="3.3" fill="#bbd6fb"/>
<text x="1056" y="730" font-size="11" fill="#fff" textLength="33" lengthAdjust="spacingAndGlyphs">09 Mar '</text>
<text x="1099" y="730" font-size="11" fill="#fff" textLength="45" lengthAdjust="spacingAndGlyphs">16 Mar '25</text>
<g fill="none" stroke="#131722" stroke-width="1.1"><path d="M1887 727c3-5 13-5 16 0c-3 5-13 5-16 0z"/><circle cx="1895" cy="727" r="2.2"/></g>
<line x1="146" y1="739.5" x2="1919" y2="739.5" stroke="#e0e3eb" stroke-width="2"/>

<!-- bottom bar -->
<text x="159" y="761" font-size="11" fill="#50535e" textLength="51" lengthAdjust="spacingAndGlyphs">Powered by</text>
<text x="213" y="761" font-size="11" fill="#2962ff" textLength="53.5" lengthAdjust="spacingAndGlyphs">TradingView</text>
<line x1="213" y1="763" x2="266.5" y2="763" stroke="#2962ff" stroke-width="0.8"/>
<g stroke="#e0e3eb"><line x1="278" y1="742" x2="278" y2="770"/><line x1="478" y1="746" x2="478" y2="766"/><line x1="1833" y1="746" x2="1833" y2="766"/></g>
<g font-size="12" fill="#131722" text-anchor="middle">
<text x="297.3" y="761.5">1D</text><text x="320.4" y="761.5">5D</text><text x="344.5" y="761.5">1M</text><text x="368.5" y="761.5">3M</text><text x="393" y="761.5">6M</text><text x="416.5" y="761.5">1Y</text><text x="439.2" y="761.5">5Y</text><text x="462.7" y="761.5">All</text>
<text x="1846.5" y="761.5">%</text><text x="1870.6" y="761.5">log</text><text x="1900" y="761.5">auto</text>
</g>
<text x="1733" y="761.5" font-size="12" fill="#131722" textLength="90" lengthAdjust="spacingAndGlyphs">17:39:36 (UTC+2)</text>
<g fill="none" stroke="#131722" stroke-width="1.1"><path d="M490 749h14v14h-6M490 753h14M493 747v4M501 747v4M490 749v6"/><path d="M489 760h7M493 757l3 3-3 3"/></g>

<!-- theme / zoom widget -->
<path d="M82 688L98 680V696Z" fill="#eeeef5"/>
<rect x="98" y="650.7" width="65" height="77.6" rx="13" fill="#eeeef5" filter="url(#sh)"/>
<rect x="99" y="658" width="56" height="28" rx="14" fill="#b4b5cc"/>
<path d="M112.5 666.5a6 6 0 1 0 0 11a5 5 0 0 1 0-11z" fill="#2a2e39"/>
<circle cx="141.6" cy="672" r="12" fill="#f4f4f8"/>
<circle cx="141.6" cy="672" r="3.5" fill="none" stroke="#2a2e39" stroke-width="1.6" stroke-dasharray="2 1.2"/><circle cx="141.6" cy="672" r="1.3" fill="#2a2e39"/>
<path d="M99 691h25.5v28H109a10 10 0 0 1-10-10z" fill="#b4b5cc"/>
<path d="M127.3 691H155v18a10 10 0 0 1-10 10h-17.7z" fill="#b4b5cc"/>
<line x1="107.5" y1="705" x2="115.5" y2="705" stroke="#2a2e39" stroke-width="1.3"/>
<path d="M137 705h8M141 701v8" stroke="#2a2e39" stroke-width="1.3"/>
</svg>
</body></html>
